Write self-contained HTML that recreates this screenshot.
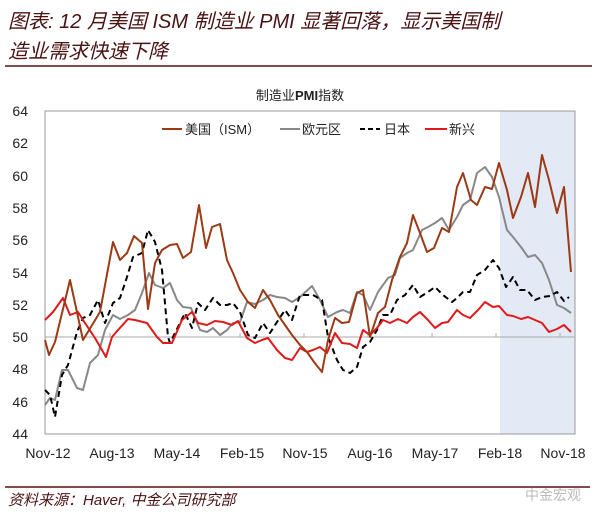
<!DOCTYPE html>
<html><head><meta charset="utf-8"><style>
html,body{margin:0;padding:0;background:#fff;width:600px;height:521px;overflow:hidden}
svg{display:block}
text{font-family:"Liberation Sans","Noto Sans CJK SC",sans-serif}
.t{font-family:"Liberation Sans","Noto Sans CJK SC",sans-serif;font-style:italic;fill:#4a1212}
.ax{font-size:14px;fill:#222}
</style></head><body>
<svg width="600" height="521" viewBox="0 0 600 521">
<text class="t" x="8" y="28" font-size="20">图表: 12 月美国 ISM 制造业 PMI 显著回落，显示美国制</text>
<text class="t" x="8" y="58" font-size="20">造业需求快速下降</text>
<line x1="5" y1="66" x2="592" y2="66" stroke="#5a1010" stroke-width="1.5"/>
<text x="300" y="100" font-size="13" text-anchor="middle" fill="#222">制造业<tspan font-weight="bold">PMI</tspan>指数</text>
<rect x="500" y="111" width="75" height="323" fill="#e3eaf6"/>
<rect x="45" y="111" width="530" height="323" fill="none" stroke="#999" stroke-width="1"/>
<line x1="45" y1="337" x2="575" y2="337" stroke="#aaa" stroke-width="1"/>
<g stroke="#aaa" stroke-width="1">
<line x1="110" y1="333" x2="110" y2="337"/><line x1="175" y1="333" x2="175" y2="337"/><line x1="240" y1="333" x2="240" y2="337"/><line x1="304" y1="333" x2="304" y2="337"/><line x1="368" y1="333" x2="368" y2="337"/><line x1="432" y1="333" x2="432" y2="337"/><line x1="496" y1="333" x2="496" y2="337"/><line x1="560" y1="333" x2="560" y2="337"/>
</g>
<g class="ax" text-anchor="end">
<text x="28" y="116">64</text><text x="28" y="148">62</text><text x="28" y="181">60</text><text x="28" y="213">58</text><text x="28" y="245">56</text><text x="28" y="278">54</text><text x="28" y="310">52</text><text x="28" y="342">50</text><text x="28" y="374">48</text><text x="28" y="407">46</text><text x="28" y="439">44</text>
</g>
<g class="ax" text-anchor="middle">
<text x="48" y="458">Nov-12</text><text x="112" y="458">Aug-13</text><text x="177" y="458">May-14</text><text x="242" y="458">Feb-15</text><text x="305" y="458">Nov-15</text><text x="370" y="458">Aug-16</text><text x="435" y="458">May-17</text><text x="500" y="458">Feb-18</text><text x="563" y="458">Nov-18</text>
</g>
<g fill="none" stroke-width="2" stroke-linejoin="round">
<polyline stroke="#888" points="45,405 50,398 55,400 62,370 68,370 77,388 83,390 90,363 98,355 105,330 113,315 120,319 128,315 135,310 142,293 149,273 155,285 163,288 170,283 177,300 183,307 191,308 200,330 207,332 213,328 220,335 227,330 233,323 240,322 247,302 255,304 263,300 270,295 277,297 285,298 292,302 300,297 312,286 320,300 328,317 337,312 343,310 350,313 357,292 363,295 370,310 378,292 388,278 395,275 400,258 407,253 413,250 422,230 428,227 435,223 442,218 449,230 457,217 463,205 470,200 477,173 485,167 492,177 499,197 507,230 513,237 521,247 528,257 535,255 542,263 549,280 557,305 564,308 571,313"/>
<polyline stroke="#000" stroke-dasharray="6,4" points="45,390 50,395 55,417 62,375 68,365 77,332 83,318 90,315 98,300 105,323 113,303 120,298 127,277 133,257 142,253 148,230 155,242 162,270 168,337 170,343 178,327 185,313 192,328 198,303 205,310 213,298 220,305 227,305 233,303 240,312 248,335 255,338 263,323 270,333 277,322 285,310 292,320 300,295 313,295 322,300 328,337 337,360 343,370 350,373 357,367 363,347 370,342 377,330 383,315 390,315 397,300 405,295 413,285 420,297 428,292 435,287 443,295 452,302 457,298 463,292 470,292 477,275 485,270 493,260 499,268 506,287 513,277 520,290 527,290 535,300 542,297 550,296 557,292 564,301 569,297"/>
<polyline stroke="#e01a1a" points="45,320 53,312 63,298 70,315 78,312 85,323 95,338 106,357 112,337 118,330 128,319 135,320 147,323 157,337 163,343 172,343 182,320 192,312 198,323 207,325 215,321 223,322 232,325 238,321 247,338 255,343 262,340 268,338 277,350 285,358 292,360 300,348 307,352 313,350 320,347 327,353 335,333 342,343 350,344 357,348 363,330 370,335 377,328 383,320 390,323 398,319 407,323 413,317 420,312 428,320 435,328 442,323 448,322 457,310 463,315 470,318 478,310 485,302 493,307 499,306 507,315 513,316 521,319 528,317 535,320 542,323 549,332 557,329 564,325 571,332"/>
<polyline stroke="#9b3a14" points="45,340 49,355 55,342 70,280 83,340 100,312 113,242 120,260 127,253 134,236 142,243 148,309 155,263 162,250 170,245 177,244 183,258 191,252 199,205 206,248 212,227 220,224 227,260 233,273 240,290 248,302 255,308 263,290 270,300 278,315 285,325 292,335 300,345 307,352 314,362 322,372 328,340 335,318 342,323 349,322 357,293 363,290 370,337 378,313 385,307 392,280 400,257 407,243 413,215 420,233 427,252 434,248 442,228 449,232 457,187 463,173 471,200 477,205 485,187 492,189 499,163 507,190 513,218 521,197 528,173 535,207 542,155 549,180 557,213 564,187 571,272"/>
</g>
<g font-size="13" fill="#222">
<line x1="162" y1="129" x2="182" y2="129" stroke="#9b3a14" stroke-width="2"/><text x="185" y="134">美国（ISM）</text>
<line x1="280" y1="129" x2="300" y2="129" stroke="#888" stroke-width="2"/><text x="302" y="134">欧元区</text>
<line x1="360" y1="129" x2="380" y2="129" stroke="#000" stroke-width="2" stroke-dasharray="5,3"/><text x="384" y="134">日本</text>
<line x1="425" y1="129" x2="447" y2="129" stroke="#e01a1a" stroke-width="2"/><text x="449" y="134">新兴</text>
</g>
<line x1="5" y1="487" x2="590" y2="487" stroke="#5a1010" stroke-width="1.5"/>
<text class="t" x="8" y="505" font-size="15">资料来源：Haver, 中金公司研究部</text>
<text x="525" y="500" font-size="14" fill="#bbb">中金宏观</text>
</svg>
</body></html>
